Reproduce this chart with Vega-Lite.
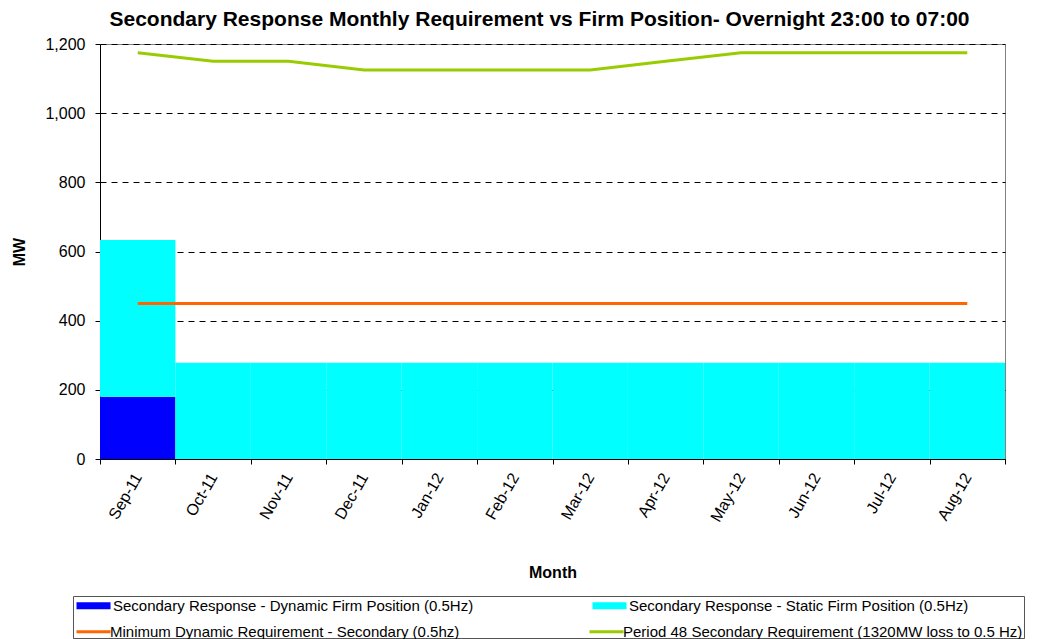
{
  "$schema": "https://vega.github.io/schema/vega-lite/v6.json",
  "autosize": "none",
  "width": 905,
  "height": 415,
  "padding": {"left": 100, "top": 44, "right": 40, "bottom": 180},
  "background": "white",
  "config": {
    "font": "Liberation Sans",
    "view": {"stroke": "#808080", "strokeWidth": 1},
    "axis": {"labelFont": "Liberation Sans", "titleFont": "Liberation Sans", "labelColor": "#000", "titleColor": "#000", "domainColor": "#000", "tickColor": "#000"},
    "legend": {"labelFont": "Liberation Sans", "labelFontSize": 15, "labelColor": "#000", "labelLimit": 600, "symbolSize": 144, "direction": "horizontal", "columns": 2, "orient": "none"}
  },
  "title": {
    "text": "Secondary Response Monthly Requirement vs Firm Position- Overnight 23:00 to 07:00",
    "fontSize": 21, "fontWeight": "bold", "font": "Liberation Sans", "color": "#000",
    "anchor": "middle", "dx": -13, "offset": 6
  },
  "datasets": {
    "rows": [
      {"month": "Sep-11", "series": "Secondary Response - Dynamic Firm Position (0.5Hz)", "value": 180},
      {"month": "Oct-11", "series": "Secondary Response - Dynamic Firm Position (0.5Hz)", "value": 0},
      {"month": "Nov-11", "series": "Secondary Response - Dynamic Firm Position (0.5Hz)", "value": 0},
      {"month": "Dec-11", "series": "Secondary Response - Dynamic Firm Position (0.5Hz)", "value": 0},
      {"month": "Jan-12", "series": "Secondary Response - Dynamic Firm Position (0.5Hz)", "value": 0},
      {"month": "Feb-12", "series": "Secondary Response - Dynamic Firm Position (0.5Hz)", "value": 0},
      {"month": "Mar-12", "series": "Secondary Response - Dynamic Firm Position (0.5Hz)", "value": 0},
      {"month": "Apr-12", "series": "Secondary Response - Dynamic Firm Position (0.5Hz)", "value": 0},
      {"month": "May-12", "series": "Secondary Response - Dynamic Firm Position (0.5Hz)", "value": 0},
      {"month": "Jun-12", "series": "Secondary Response - Dynamic Firm Position (0.5Hz)", "value": 0},
      {"month": "Jul-12", "series": "Secondary Response - Dynamic Firm Position (0.5Hz)", "value": 0},
      {"month": "Aug-12", "series": "Secondary Response - Dynamic Firm Position (0.5Hz)", "value": 0},
      {"month": "Sep-11", "series": "Secondary Response - Static Firm Position (0.5Hz)", "value": 453},
      {"month": "Oct-11", "series": "Secondary Response - Static Firm Position (0.5Hz)", "value": 278},
      {"month": "Nov-11", "series": "Secondary Response - Static Firm Position (0.5Hz)", "value": 278},
      {"month": "Dec-11", "series": "Secondary Response - Static Firm Position (0.5Hz)", "value": 278},
      {"month": "Jan-12", "series": "Secondary Response - Static Firm Position (0.5Hz)", "value": 278},
      {"month": "Feb-12", "series": "Secondary Response - Static Firm Position (0.5Hz)", "value": 278},
      {"month": "Mar-12", "series": "Secondary Response - Static Firm Position (0.5Hz)", "value": 278},
      {"month": "Apr-12", "series": "Secondary Response - Static Firm Position (0.5Hz)", "value": 278},
      {"month": "May-12", "series": "Secondary Response - Static Firm Position (0.5Hz)", "value": 278},
      {"month": "Jun-12", "series": "Secondary Response - Static Firm Position (0.5Hz)", "value": 278},
      {"month": "Jul-12", "series": "Secondary Response - Static Firm Position (0.5Hz)", "value": 278},
      {"month": "Aug-12", "series": "Secondary Response - Static Firm Position (0.5Hz)", "value": 278},
      {"month": "Sep-11", "series": "Minimum Dynamic Requirement - Secondary (0.5hz)", "value": 450},
      {"month": "Oct-11", "series": "Minimum Dynamic Requirement - Secondary (0.5hz)", "value": 450},
      {"month": "Nov-11", "series": "Minimum Dynamic Requirement - Secondary (0.5hz)", "value": 450},
      {"month": "Dec-11", "series": "Minimum Dynamic Requirement - Secondary (0.5hz)", "value": 450},
      {"month": "Jan-12", "series": "Minimum Dynamic Requirement - Secondary (0.5hz)", "value": 450},
      {"month": "Feb-12", "series": "Minimum Dynamic Requirement - Secondary (0.5hz)", "value": 450},
      {"month": "Mar-12", "series": "Minimum Dynamic Requirement - Secondary (0.5hz)", "value": 450},
      {"month": "Apr-12", "series": "Minimum Dynamic Requirement - Secondary (0.5hz)", "value": 450},
      {"month": "May-12", "series": "Minimum Dynamic Requirement - Secondary (0.5hz)", "value": 450},
      {"month": "Jun-12", "series": "Minimum Dynamic Requirement - Secondary (0.5hz)", "value": 450},
      {"month": "Jul-12", "series": "Minimum Dynamic Requirement - Secondary (0.5hz)", "value": 450},
      {"month": "Aug-12", "series": "Minimum Dynamic Requirement - Secondary (0.5hz)", "value": 450},
      {"month": "Sep-11", "series": "Period 48 Secondary Requirement (1320MW loss to 0.5 Hz)", "value": 1175},
      {"month": "Oct-11", "series": "Period 48 Secondary Requirement (1320MW loss to 0.5 Hz)", "value": 1150},
      {"month": "Nov-11", "series": "Period 48 Secondary Requirement (1320MW loss to 0.5 Hz)", "value": 1150},
      {"month": "Dec-11", "series": "Period 48 Secondary Requirement (1320MW loss to 0.5 Hz)", "value": 1125},
      {"month": "Jan-12", "series": "Period 48 Secondary Requirement (1320MW loss to 0.5 Hz)", "value": 1125},
      {"month": "Feb-12", "series": "Period 48 Secondary Requirement (1320MW loss to 0.5 Hz)", "value": 1125},
      {"month": "Mar-12", "series": "Period 48 Secondary Requirement (1320MW loss to 0.5 Hz)", "value": 1125},
      {"month": "Apr-12", "series": "Period 48 Secondary Requirement (1320MW loss to 0.5 Hz)", "value": 1150},
      {"month": "May-12", "series": "Period 48 Secondary Requirement (1320MW loss to 0.5 Hz)", "value": 1175},
      {"month": "Jun-12", "series": "Period 48 Secondary Requirement (1320MW loss to 0.5 Hz)", "value": 1175},
      {"month": "Jul-12", "series": "Period 48 Secondary Requirement (1320MW loss to 0.5 Hz)", "value": 1175},
      {"month": "Aug-12", "series": "Period 48 Secondary Requirement (1320MW loss to 0.5 Hz)", "value": 1175}
    ]
  },
  "data": {"name": "rows"},
  "encoding": {
    "x": {
      "field": "month", "type": "ordinal",
      "sort": ["Sep-11", "Oct-11", "Nov-11", "Dec-11", "Jan-12", "Feb-12", "Mar-12", "Apr-12", "May-12", "Jun-12", "Jul-12", "Aug-12"],
      "scale": {"paddingInner": 0, "paddingOuter": 0},
      "axis": {
        "title": "Month", "titleFontSize": 16, "titleFontWeight": "bold", "titlePadding": 40,
        "labelAngle": -60, "labelFontSize": 16, "labelPadding": 10,
        "tickBand": "extent", "tickSize": 5, "domainColor": "#000"
      }
    },
    "y": {
      "field": "value", "type": "quantitative",
      "scale": {"domain": [0, 1200], "nice": false},
      "axis": {
        "title": "MW", "titleFontSize": 16, "titleFontWeight": "bold", "titlePadding": 17,
        "values": [0, 200, 400, 600, 800, 1000, 1200], "format": ",d",
        "labelFontSize": 16, "labelPadding": 10, "tickSize": 5,
        "grid": true, "gridColor": "#000", "gridDash": [6, 5], "gridWidth": 1
      }
    }
  },
  "layer": [
    {
      "transform": [{"filter": "indexof(datum.series, 'Firm') >= 0"}],
      "mark": {"type": "bar", "opacity": 1},
      "encoding": {
        "y": {"field": "value", "type": "quantitative", "stack": "zero"},
        "order": {"field": "series", "sort": "ascending"},
        "color": {
          "field": "series", "type": "nominal",
          "scale": {
            "domain": ["Secondary Response - Dynamic Firm Position (0.5Hz)", "Secondary Response - Static Firm Position (0.5Hz)"],
            "range": ["#0000FF", "#00FFFF"]
          },
          "legend": {
            "legendX": -27, "legendY": 552,
            "columnPadding": 117, "labelOffset": 23,
            "title": "\u00a0", "titleOrient": "right", "titlePadding": 54, "titleFontSize": 60,
            "symbolType": "M-1,-0.58h5.67v1.17h-5.67z",
            "strokeColor": "#555", "padding": 2
          }
        }
      }
    },
    {
      "transform": [{"filter": "indexof(datum.series, 'Firm') < 0"}],
      "mark": {"type": "line", "strokeWidth": 3},
      "encoding": {
        "color": {
          "field": "series", "type": "nominal",
          "scale": {
            "domain": ["Minimum Dynamic Requirement - Secondary (0.5hz)", "Period 48 Secondary Requirement (1320MW loss to 0.5 Hz)"],
            "range": ["#FF6600", "#99CC00"]
          },
          "legend": {
            "legendX": -25, "legendY": 580,
            "columnPadding": 123, "labelOffset": 20,
            "title": null,
            "symbolType": "M-1,0h5.67", "symbolStrokeWidth": 3,
            "padding": 0
          }
        }
      }
    }
  ],
  "resolve": {"scale": {"color": "independent"}, "legend": {"color": "independent"}}
}
